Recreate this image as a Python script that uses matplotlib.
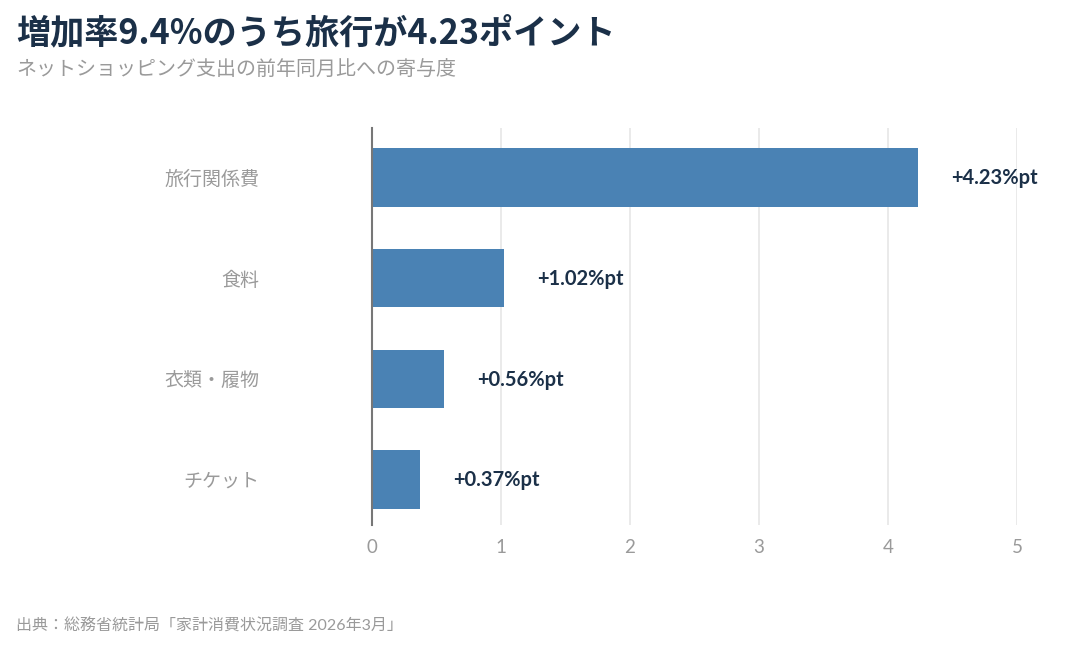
import matplotlib
matplotlib.use("Agg")
import matplotlib.pyplot as plt

plt.rcParams['font.family'] = ['Lato', 'Noto Sans CJK JP', 'DejaVu Sans']

categories = ["旅行関係費", "食料", "衣類・履物", "チケット"]
values = [4.23, 1.02, 0.56, 0.37]
value_labels = ["+4.23%pt", "+1.02%pt", "+0.56%pt", "+0.37%pt"]
xticks = [0, 1, 2, 3, 4, 5]

title = "増加率9.4%のうち旅行が4.23ポイント"
subtitle = "ネットショッピング支出の前年同月比への寄与度"
source = "出典：総務省統計局「家計消費状況調査 2026年3月」"

navy = "#1b3048"
grey = "#9a9a9a"
bar_color = "#4a82b4"

fig = plt.figure(figsize=(10.86, 6.49), dpi=100)
ax = fig.add_axes([372/1086, 1-525/649, (1017-372)/1086, (525-128)/649])

pos = list(range(len(categories)))
ax.barh(pos, values, height=0.58, color=bar_color, zorder=3)
for p, v, lab in zip(pos, values, value_labels):
    ax.annotate(lab, (v, p), xytext=(24, -0.5), textcoords='offset points',
                va='center', ha='left', fontsize=14.5, fontweight='bold', color=navy)

ax.set_xlim(0, 5)
ax.set_ylim(3.45, -0.49)
ax.set_xticks(xticks)
ax.set_xticklabels([str(t) for t in xticks])
ax.set_yticks(pos)
ax.set_yticklabels(categories)
ax.tick_params(axis='y', length=0, pad=81, labelsize=13.7, labelcolor=grey)
for t in ax.get_yticklabels():
    t.set_ha('right')
ax.tick_params(axis='x', length=0, pad=10, labelsize=13.5, labelcolor=grey)
ax.grid(axis='x', color='#e6e6e6', linewidth=1.2, zorder=0)
for s in ['top', 'right', 'bottom']:
    ax.spines[s].set_visible(False)
ax.spines['left'].set_color('#777777')
ax.spines['left'].set_linewidth(1.5)
ax.spines['left'].set_zorder(4)

fig.text(16/1086, 1-33/649, title, fontsize=24.6, fontweight='bold', color=navy,
         va='center', ha='left', family=['Noto Sans CJK JP', 'DejaVu Sans'])
fig.text(16/1086, 1-69/649, subtitle, fontsize=14.4, color=grey, va='center', ha='left')
fig.text(16/1086, 1-626/649, source, fontsize=11.5, color=grey, va='center', ha='left')

fig.savefig("out.png", dpi=100)
